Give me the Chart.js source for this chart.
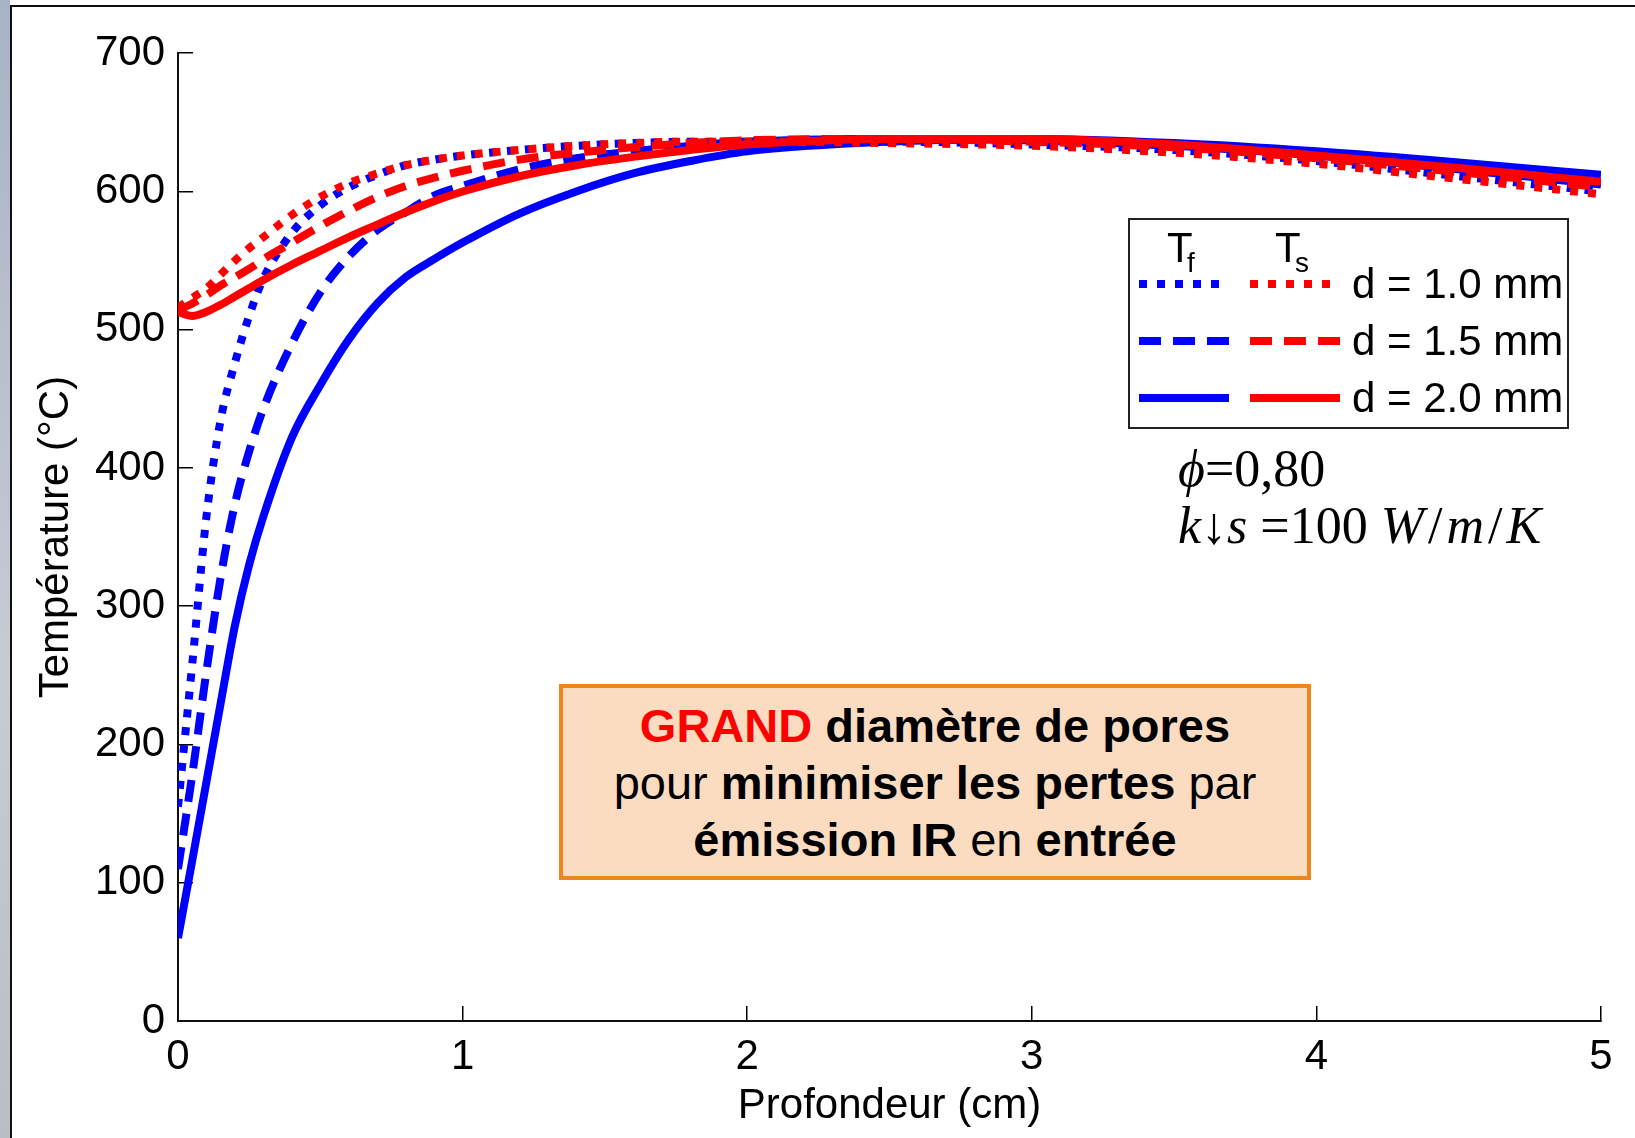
<!DOCTYPE html>
<html lang="fr">
<head>
<meta charset="utf-8">
<title>Température vs profondeur</title>
<script src="https://cdn.jsdelivr.net/npm/chart.js@4.4.1/dist/chart.umd.min.js"></script>
<style>
    body { margin: 0; width: 1635px; height: 1138px; overflow: hidden; background: #fff; position: relative; }
    #strip { position: absolute; left: 0; top: 0; width: 10px; height: 1138px; background: linear-gradient(#a9b3c6, #c7ccd4 60%, #b9bec6); }
    #frame { position: absolute; left: 10px; top: 5px; width: 1640px; height: 1140px; border-left: 2px solid #111; border-top: 2px solid #111; background: #fff; }
    #chart { position: absolute; left: 0; top: 0; }
    #note {
        position: absolute; left: 559px; top: 684px; width: 744px; height: 188px;
        border: 4px solid #ef861c; background: #fbdcc1;
        display: flex; flex-direction: column; justify-content: center; align-items: center;
        font-family: 'Liberation Sans', Arial, sans-serif; font-size: 47px; line-height: 57px; color: #000;
    }
    #note b.red { color: #ff0000; }
    #params {
        position: absolute; left: 1178px; top: 440px;
        font-family: 'Liberation Serif', 'DejaVu Serif', serif; font-size: 52px; line-height: 57px; color: #000;
        white-space: nowrap;
    }
    #params .sl { margin: 0 4px; }
</style>
</head>
<body>
<div id="strip"></div>
<div id="frame"></div>
<canvas id="chart" width="1635" height="1138"></canvas>
<div id="note">
    <div><b class="red">GRAND</b> <b>diamètre de pores</b></div>
    <div>pour <b>minimiser les pertes</b> par</div>
    <div><b>émission IR</b> en <b>entrée</b></div>
</div>
<div id="params">
    <div><i>ϕ</i>=0,80</div>
    <div><i>k</i>↓<i>s</i> =100 <i>W</i><span class="sl">/</span><i>m</i><span class="sl">/</span><i>K</i></div>
</div>
<script>
// profondeur (cm)
const depth = [0, 0.05, 0.1, 0.15, 0.2, 0.25, 0.3, 0.4, 0.5, 0.6, 0.7, 0.8, 0.9, 1.0, 1.2, 1.4, 1.6, 1.8, 2.0, 2.5, 3.0, 3.5, 4.0, 4.5, 5.0];

// Tf : température du fluide (bleu)
const tfD10 = [155, 258, 365, 435, 476, 510, 537, 570, 590, 603, 612, 619, 623, 626, 630, 633, 635, 636, 636, 636, 634, 630, 622, 611, 600];
const tfD15 = [110, 178, 253, 321, 374, 412, 443, 490, 527, 553, 572, 585, 597, 604, 616, 624, 629, 633, 636, 638, 637, 633, 626, 616, 605];
const tfD20 = [60, 116, 173, 230, 286, 330, 365, 422, 460, 493, 519, 538, 551, 563, 584, 600, 613, 622, 629, 636, 638, 635, 629, 621, 612];

// Ts : température du solide (rouge)
const tsD10 = [516, 523, 530, 540, 550, 559, 567, 583, 596, 606, 613, 619, 623, 626, 630, 633, 635, 636, 636, 635, 633, 628, 620, 609, 598];
const tsD15 = [514, 519, 525, 532, 538, 544, 551, 563, 575, 586, 596, 604, 610, 615, 623, 628, 632, 635, 637, 638, 636, 632, 624, 614, 603];
const tsD20 = [513, 510, 513, 518, 524, 530, 536, 547, 557, 567, 576, 585, 593, 600, 611, 619, 625, 630, 634, 638, 638, 634, 626, 617, 607];

const diameterLabels = ['d = 1.0 mm', 'd = 1.5 mm', 'd = 2.0 mm'];
const lineDashes = [[8, 10], [22, 12], []];

const BLUE = '#0000ff';
const RED = '#ff0000';
const FONT = "'Liberation Sans', Arial, sans-serif";

function toPoints(values) {
    return depth.map((x, i) => ({ x: x, y: values[i] }));
}

function makeDataset(label, values, color, dash, order) {
    return {
        label: label,
        data: toPoints(values),
        borderColor: color,
        backgroundColor: color,
        borderWidth: 8,
        borderDash: dash,
        borderCapStyle: 'butt',
        pointRadius: 0,
        cubicInterpolationMode: 'monotone',
        fill: false,
        order: order
    };
}

const fluidSeries = [tfD10, tfD15, tfD20];
const solidSeries = [tsD10, tsD15, tsD20];

const datasets = [];
fluidSeries.forEach((s, i) => datasets.push(makeDataset('Tf ' + diameterLabels[i], s, BLUE, lineDashes[i], 2)));
solidSeries.forEach((s, i) => datasets.push(makeDataset('Ts ' + diameterLabels[i], s, RED, lineDashes[i], 1)));

// légende dessinée à la main (Tf / Ts en colonnes)
const legendBox = {
    id: 'legendBox',
    afterDraw(chart) {
        const ctx = chart.ctx;
        const box = { x: 1129, y: 219, w: 439, h: 209 };
        ctx.save();
        ctx.fillStyle = '#fff';
        ctx.fillRect(box.x, box.y, box.w, box.h);
        ctx.strokeStyle = '#222';
        ctx.lineWidth = 2;
        ctx.strokeRect(box.x, box.y, box.w, box.h);

        // en-têtes
        ctx.fillStyle = '#000';
        ctx.textBaseline = 'alphabetic';
        ctx.textAlign = 'left';
        ctx.font = '42px ' + FONT;
        ctx.fillText('T', 1167, 262);
        ctx.fillText('T', 1275, 262);
        ctx.font = '28px ' + FONT;
        ctx.fillText('f', 1187, 272);
        ctx.fillText('s', 1295, 272);

        const rows = [284, 341, 398];
        rows.forEach((y, i) => {
            const blue = chart.data.datasets[i];
            const red = chart.data.datasets[i + 3];
            [[blue, 1139, 1229], [red, 1250, 1340]].forEach(([ds, x1, x2]) => {
                ctx.beginPath();
                ctx.strokeStyle = ds.borderColor;
                ctx.lineWidth = ds.borderWidth;
                ctx.lineCap = 'butt';
                ctx.setLineDash(ds.borderDash);
                ctx.moveTo(x1, y);
                ctx.lineTo(x2, y);
                ctx.stroke();
            });
            ctx.setLineDash([]);
            ctx.fillStyle = '#000';
            ctx.font = '42px ' + FONT;
            ctx.textBaseline = 'middle';
            ctx.fillText(diameterLabels[i], 1352, y + 2);
        });
        ctx.restore();
    }
};

const ctx = document.getElementById('chart').getContext('2d');
const chart = new Chart(ctx, {
    type: 'line',
    data: { datasets: datasets },
    options: {
        responsive: false,
        animation: false,
        layout: { padding: { top: 48, right: 34, left: 0, bottom: 0 } },
        plugins: {
            legend: { display: false },
            tooltip: { enabled: false }
        },
        scales: {
            x: {
                type: 'linear',
                min: 0,
                max: 5,
                afterFit: (scale) => {
                    // taille fixe, pas de marge pour les étiquettes extrêmes
                    scale.height = 117;
                    scale.paddingLeft = 0;
                    scale.paddingRight = 0;
                },
                ticks: {
                    stepSize: 1,
                    color: '#000',
                    padding: 26,
                    font: { family: FONT, size: 42 }
                },
                grid: { drawOnChartArea: false, tickLength: -15, color: '#000', lineWidth: 1.5 },
                border: { display: true, color: '#111', width: 2 },
                title: {
                    display: true,
                    text: 'Profondeur (cm)',
                    color: '#000',
                    font: { family: FONT, size: 42 },
                    padding: { top: 0, bottom: 6 }
                }
            },
            y: {
                type: 'linear',
                min: 0,
                max: 700,
                afterFit: (scale) => { scale.width = 178; },
                ticks: {
                    stepSize: 100,
                    color: '#000',
                    padding: 28,
                    font: { family: FONT, size: 42 }
                },
                grid: { drawOnChartArea: false, tickLength: -15, color: '#000', lineWidth: 1.5 },
                border: { display: true, color: '#111', width: 2 },
                title: {
                    display: true,
                    text: 'Température (°C)',
                    color: '#000',
                    font: { family: FONT, size: 42 },
                    padding: { top: 31, bottom: 0 }
                }
            }
        }
    },
    plugins: [legendBox]
});
</script>
</body>
</html>
